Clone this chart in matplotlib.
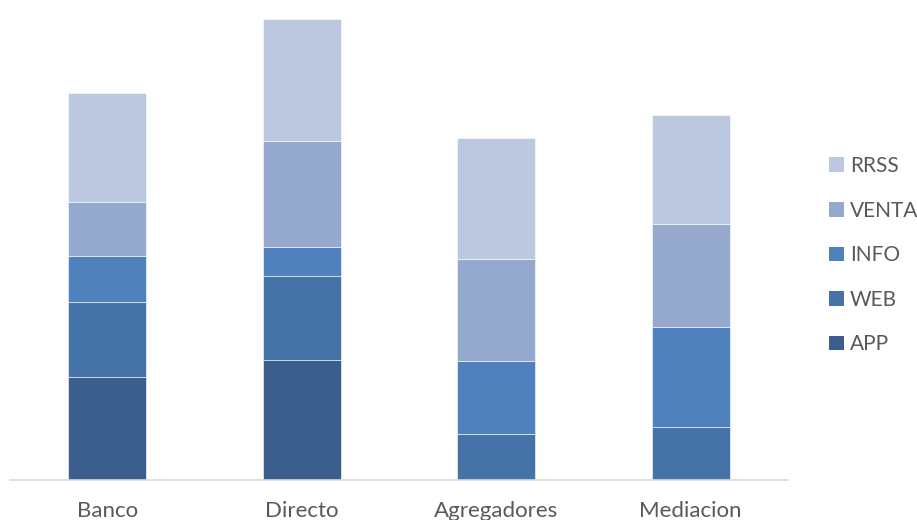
import matplotlib
matplotlib.use("Agg")
import matplotlib.pyplot as plt
from matplotlib.patches import Patch
import numpy as np

categories = ["Banco", "Directo", "Agregadores", "Mediacion"]
series_names = ["APP", "WEB", "INFO", "VENTA", "RRSS"]
app = [102.7, 119.7, 0, 0]
web = [75.0, 84.0, 45.7, 52.7]
info = [46.3, 29.6, 73.6, 100.6]
venta = [54.3, 106.0, 101.7, 103.0]
rrss = [109.0, 121.7, 121.0, 109.0]
colors = ["#3B5E8C", "#4572A7", "#4F81BD", "#95A9CF", "#BBC8E0"]

plt.rcParams['font.family'] = ['Lato', 'DejaVu Sans']
fig = plt.figure(figsize=(9.17, 5.2), dpi=100)
ax = fig.add_axes([10/917, 40/520, 778/917, 480/520])

x = np.arange(len(categories))
bottom = np.zeros(len(categories))
data = [app, web, info, venta, rrss]
for name, vals, c in zip(series_names, data, colors):
    vals = np.array(vals)
    ax.bar(x, vals, 0.40, bottom=bottom, color=c, edgecolor="white", linewidth=0.4, label=name)
    bottom += vals

ax.set_xlim(-0.5, len(categories) - 0.5)
ax.set_ylim(0, 480)
ax.set_yticks([])
for s in ["top", "right", "left"]:
    ax.spines[s].set_visible(False)
ax.spines["bottom"].set_color("#D9D9D9")
ax.spines["bottom"].set_linewidth(1.2)
ax.set_xticks(x)
ax.set_xticklabels(categories, fontsize=16, color="#595959")
ax.tick_params(axis="x", length=0, pad=15)

handles = [Patch(facecolor=c, edgecolor="none") for c in colors][::-1]
labels = series_names[::-1]
fig.legend(handles, labels, loc="upper left", bbox_to_anchor=(829/917, 1 - 156/520),
           frameon=False, fontsize=15, labelcolor="#595959", handlelength=0.7,
           handleheight=0.7, handletextpad=0.3, labelspacing=1.18, borderpad=0,
           borderaxespad=0)

fig.savefig("out.png", dpi=100)
